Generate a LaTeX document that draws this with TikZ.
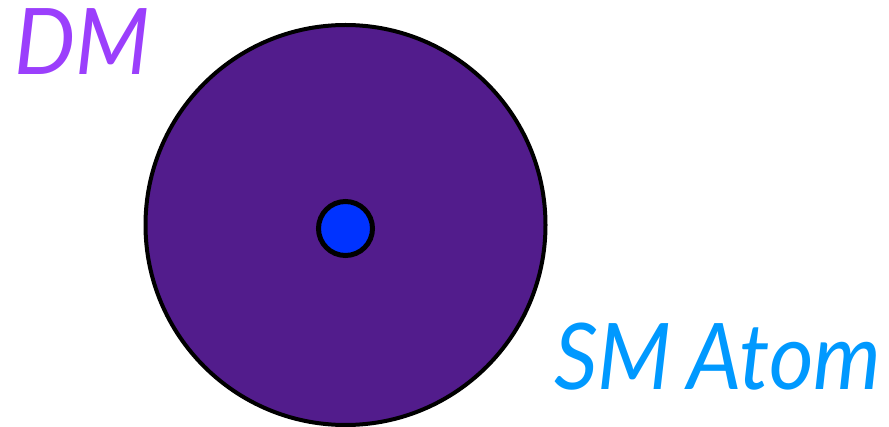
\documentclass[tikz,border=0pt]{standalone}
\usepackage{fontspec}
\setmainfont{Lato}
\definecolor{dmpurple}{RGB}{155,63,252}
\definecolor{smblue}{RGB}{0,153,255}
\definecolor{bigfill}{RGB}{82,28,140}
\definecolor{nucleus}{RGB}{0,51,255}
\begin{document}
\begin{tikzpicture}[x=1pt,y=1pt,
  lbl/.style={inner sep=0pt, anchor=base west, font=\fontsize{92}{92}\selectfont\itshape}]
\useasboundingbox (0,0) rectangle (889,426);
\node[circle, draw=black, line width=4pt, fill=bigfill, minimum size=400pt, inner sep=0pt] (dm) at (345.5,201) {};
\node[circle, draw=black, line width=5pt, fill=nucleus, minimum size=54pt, inner sep=0pt] (atom) at (345.5,197.5) {};
\node[lbl, text=dmpurple] (dmlabel) at (14,351) {\scalebox{0.94}[1]{DM}};
\node[lbl, text=smblue] (smlabel) at (554,37) {\scalebox{0.935}[1]{SM\hspace{-0.05em} Atom}};
\end{tikzpicture}
\end{document}
